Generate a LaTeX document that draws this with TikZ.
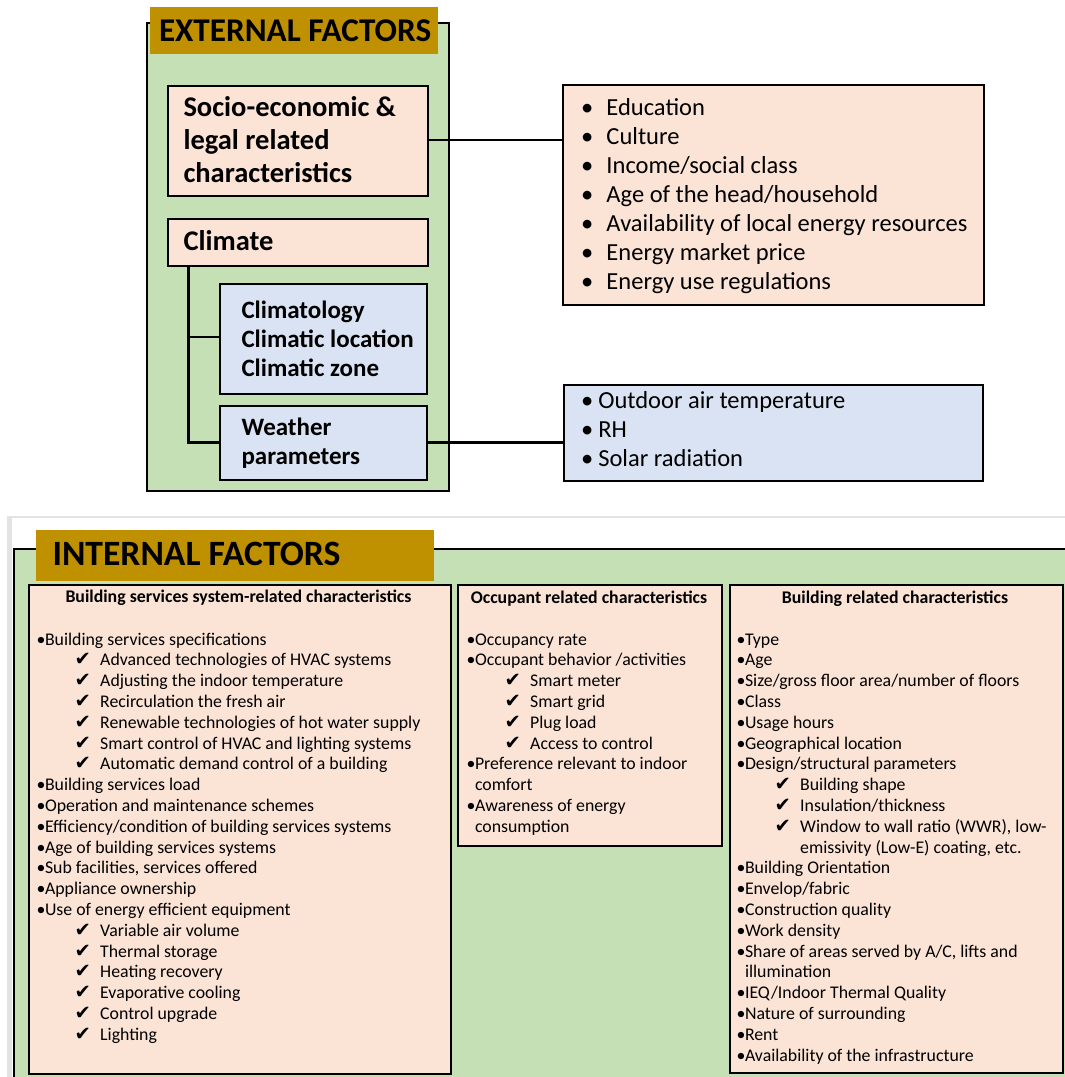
\documentclass[tikz,border=0pt]{standalone}
\usepackage{fontspec}
\setmainfont{Carlito}
\newfontfamily\symfont{DejaVu Sans}
\definecolor{panelgreen}{HTML}{C5E0B4}
\definecolor{peach}{HTML}{FBE3D6}
\definecolor{paleblue}{HTML}{DAE3F3}
\definecolor{bannergold}{HTML}{BF9000}
\definecolor{frame}{HTML}{E3E3E3}

% list markers
\newcommand\bl{\makebox[8.3pt][l]{•}}
\newcommand\ck{\hspace*{38pt}\makebox[25.5pt][l]{\symfont\fontsize{19.5}{19.5}\selectfont ✔}}
\newcommand\cont{\hspace*{8.3pt}}
\newcommand\ckcont{\hspace*{63.5pt}}

\tikzset{
  panel/.style={draw=black, line width=2.4pt, fill=panelgreen},
  banner/.style={fill=bannergold, draw=none},
  peachbox/.style={draw=black, line width=2.4pt, fill=peach},
  bluebox/.style={draw=black, line width=2.4pt, fill=paleblue},
  link/.style={draw=black, line width=2.4pt},
  txt/.style={anchor=base west, inner sep=0pt, outer sep=0pt},
  bigbold/.style={font=\fontsize{28.5}{33}\selectfont\bfseries},
  climbold/.style={font=\fontsize{25}{29}\selectfont\bfseries},
  listfont/.style={font=\fontsize{24.5}{28.9}\selectfont},
  bodyfont/.style={font=\fontsize{17.8}{20.8}\selectfont},
  headfont/.style={font=\fontsize{17.8}{20}\selectfont\bfseries},
  titlefont/.style={font=\fontsize{33.2}{38}\selectfont\bfseries},
}

\begin{document}
\begin{tikzpicture}[x=1pt, y=-1pt]
\useasboundingbox (0,0) rectangle (1065,1077);
\fill[white] (0,0) rectangle (1065,1077);

% ---------------- external factors ----------------
\node[panel, anchor=north west, minimum width=302pt, minimum height=468pt, inner sep=0pt] (extpanel) at (146,22) {};
\node[banner, anchor=north west, minimum width=288pt, minimum height=46.5pt, inner sep=0pt] (extbanner) at (150,7) {};
\node[txt, titlefont] (exttitle) at (159,41.7) {EXTERNAL FACTORS};

\node[peachbox, anchor=north west, minimum width=260pt, minimum height=110pt, inner sep=0pt] (socio) at (167,85) {};
\node[txt, bigbold] (sociotxt) at (183.5,116) {\parbox[t]{240pt}{Socio-economic \&\\ legal related\\ characteristics}};

\node[peachbox, anchor=north west, minimum width=260pt, minimum height=47pt, inner sep=0pt] (climate) at (167,218) {};
\node[txt, bigbold] (climatetxt) at (183.5,250.7) {Climate};

\node[bluebox, anchor=north west, minimum width=207pt, minimum height=110pt, inner sep=0pt] (climzone) at (219,283) {};
\node[txt, climbold] (climzonetxt) at (241.5,318) {\parbox[t]{180pt}{Climatology\\ Climatic location\\ Climatic zone}};

\node[bluebox, anchor=north west, minimum width=207pt, minimum height=74pt, inner sep=0pt] (weather) at (219,405) {};
\node[txt, climbold] (weathertxt) at (241.5,435) {\parbox[t]{180pt}{Weather\\ parameters}};

\node[peachbox, anchor=north west, minimum width=421pt, minimum height=220pt, inner sep=0pt] (sociolist) at (562,84) {};
\node[txt, listfont] (sociolisttxt) at (581,115.7) {\parbox[t]{395pt}{%
\makebox[25.5pt][l]{•}Education\\ \makebox[25.5pt][l]{•}Culture\\ \makebox[25.5pt][l]{•}Income/social class\\ \makebox[25.5pt][l]{•}Age of the head/household\\
\makebox[25.5pt][l]{•}Availability of local energy resources\\ \makebox[25.5pt][l]{•}Energy market price\\ \makebox[25.5pt][l]{•}Energy use regulations}};

\node[bluebox, anchor=north west, minimum width=419pt, minimum height=96pt, inner sep=0pt] (weatherlist) at (563,384) {};
\node[txt, listfont] (weatherlisttxt) at (581,408) {\parbox[t]{395pt}{%
\makebox[17.3pt][l]{•}Outdoor air temperature\\[0.3pt] \makebox[17.3pt][l]{•}RH\\[0.3pt] \makebox[17.3pt][l]{•}Solar radiation}};

% connectors
\coordinate (trunktop) at (188.3,265);
\coordinate (trunkmid) at (188.3,337);
\coordinate (trunkend) at (188.3,442.5);
\draw[link] (trunktop) -- (trunkend) -- (weather.west |- trunkend);
\draw[link] (trunkmid) -- (climzone.west |- trunkmid);
\draw[link] (socio.east |- 0,140) -- (sociolist.west |- 0,140);
\draw[link] (weather.east |- trunkend) -- (weatherlist.west |- trunkend);

% ---------------- internal factors ----------------
\fill[frame] (7,515.5) rectangle (1065,518);
\fill[frame] (7,515.5) rectangle (12,1077);
\begin{scope}
\clip (0,0) rectangle (1065,1077);
\node[panel, anchor=north west, minimum width=1080pt, minimum height=560pt, inner sep=0pt] (intpanel) at (13,548) {};
\end{scope}
\node[banner, anchor=north west, minimum width=397.5pt, minimum height=51.5pt, inner sep=0pt] (intbanner) at (36,529.3) {};
\node[txt, font=\fontsize{35.6}{40}\selectfont\bfseries] (inttitle) at (52.5,565) {INTERNAL FACTORS};

% building services system-related characteristics
\node[peachbox, anchor=north west, minimum width=422pt, minimum height=489pt, inner sep=0pt] (services) at (28,584) {};
\node[headfont, anchor=base, inner sep=0pt] (serviceshead) at (238.5,602.5) {Building services system-related characteristics};
\node[txt, bodyfont] (servicestxt) at (36.7,645) {\parbox[t]{410pt}{%
\bl Building services specifications\\
\ck Advanced technologies of HVAC systems\\
\ck Adjusting the indoor temperature\\
\ck Recirculation the fresh air\\
\ck Renewable technologies of hot water supply\\
\ck Smart control of HVAC and lighting systems\\
\ck Automatic demand control of a building\\
\bl Building services load\\
\bl Operation and maintenance schemes\\
\bl Efficiency/condition of building services systems\\
\bl Age of building services systems\\
\bl Sub facilities, services offered\\
\bl Appliance ownership\\
\bl Use of energy efficient equipment\\
\ck Variable air volume\\
\ck Thermal storage\\
\ck Heating recovery\\
\ck Evaporative cooling\\
\ck Control upgrade\\
\ck Lighting}};

% occupant related characteristics
\node[peachbox, anchor=north west, minimum width=264pt, minimum height=261pt, inner sep=0pt] (occupant) at (457,584) {};
\node[headfont, anchor=base, inner sep=0pt] (occupanthead) at (589,603) {Occupant related characteristics};
\node[txt, bodyfont] (occupanttxt) at (466.7,645) {\parbox[t]{250pt}{%
\bl Occupancy rate\\
\bl Occupant behavior /activities\\
\ck Smart meter\\
\ck Smart grid\\
\ck Plug load\\
\ck Access to control\\
\bl Preference relevant to indoor\\
\cont comfort\\
\bl Awareness of energy\\
\cont consumption}};

% building related characteristics
\node[peachbox, anchor=north west, minimum width=333.5pt, minimum height=488pt, inner sep=0pt] (building) at (728.5,584) {};
\node[headfont, anchor=base, inner sep=0pt] (buildinghead) at (895,603) {Building related characteristics};
\node[txt, bodyfont] (buildingtxt) at (736.7,645) {\parbox[t]{320pt}{%
\bl Type\\
\bl Age\\
\bl Size/gross floor area/number of floors\\
\bl Class\\
\bl Usage hours\\
\bl Geographical location\\
\bl Design/structural parameters\\
\ck Building shape\\
\ck Insulation/thickness\\
\ck Window to wall ratio (WWR), low-\\
\ckcont emissivity (Low-E) coating, etc.\\
\bl Building Orientation\\
\bl Envelop/fabric\\
\bl Construction quality\\
\bl Work density\\
\bl Share of areas served by A/C, lifts and\\
\cont illumination\\
\bl IEQ/Indoor Thermal Quality\\
\bl Nature of surrounding\\
\bl Rent\\
\bl Availability of the infrastructure}};
\end{tikzpicture}
\end{document}
